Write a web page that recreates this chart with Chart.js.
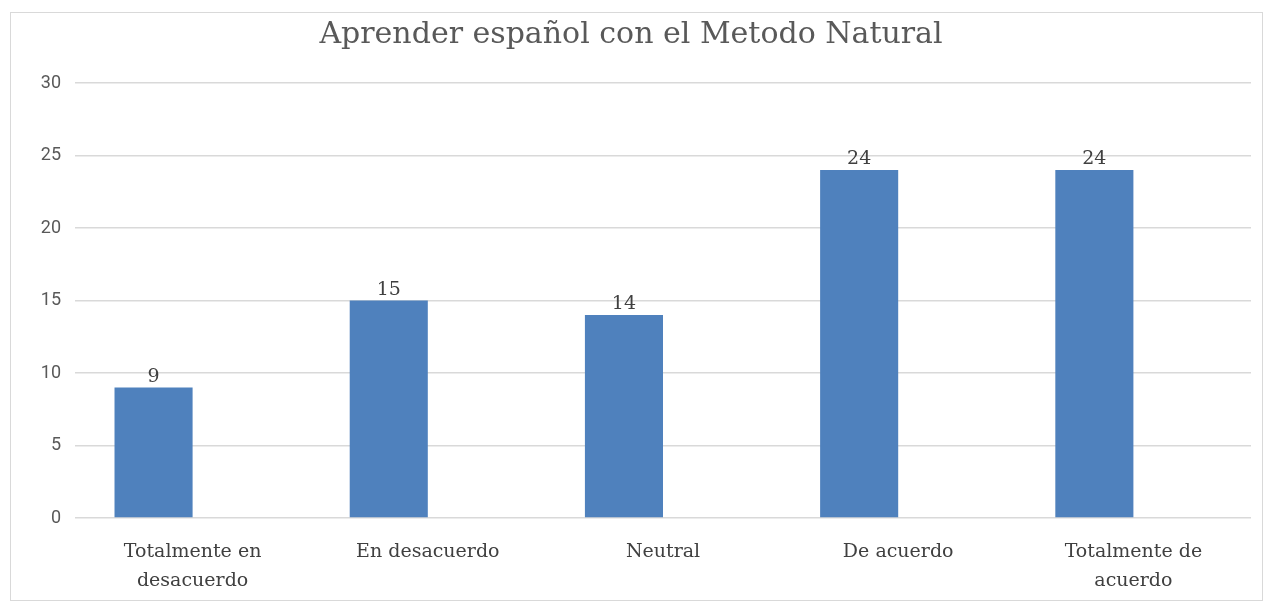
<!DOCTYPE html>
<html>
<head>
<meta charset="utf-8">
<script src="https://cdn.jsdelivr.net/npm/chart.js@4/dist/chart.umd.min.js"></script>
<style>
    body { margin: 0; background: #fff; }
    #box {
        position: absolute; left: 10px; top: 12px;
        width: 1251px; height: 587px;
        border: 1px solid #d9d9d9;
    }
</style>
</head>
<body>
<div id="box"><canvas id="chart"></canvas></div>
<script>
// Chart data
const categories = [
    ['Totalmente en', 'desacuerdo'],
    'En desacuerdo',
    'Neutral',
    'De acuerdo',
    ['Totalmente de', 'acuerdo']
];
const respuestas = [9, 15, 14, 24, 24];
const yTicks = [0, 5, 10, 15, 20, 25, 30];

// empty second series: keeps bars left of the category centre like the original
const vacio = categories.map(() => null);

// value labels above each bar
const valueLabels = {
    id: 'valueLabels',
    afterDatasetsDraw(chart) {
        const ctx = chart.ctx;
        const meta = chart.getDatasetMeta(0);
        ctx.save();
        ctx.font = '19px "DejaVu Serif"';
        ctx.fillStyle = '#404040';
        ctx.textAlign = 'center';
        ctx.textBaseline = 'bottom';
        meta.data.forEach((bar, i) => {
            ctx.fillText(respuestas[i], bar.x, bar.y - 1);
        });
        ctx.restore();
    }
};

const ctx = document.getElementById('chart').getContext('2d');
new Chart(ctx, {
    type: 'bar',
    data: {
        labels: categories,
        datasets: [{
            data: respuestas,
            backgroundColor: '#4f81bd',
            barPercentage: 1,
            categoryPercentage: 0.664
        }, {
            data: vacio,
            backgroundColor: 'rgba(0,0,0,0)',
            barPercentage: 1,
            categoryPercentage: 0.664
        }]
    },
    options: {
        responsive: true,
        maintainAspectRatio: false,
        animation: false,
        layout: { padding: { left: 0, right: 11, top: 0, bottom: 0 } },
        plugins: {
            legend: { display: false },
            tooltip: { enabled: false },
            title: {
                display: true,
                text: 'Aprender español con el Metodo Natural',
                color: '#595959',
                font: { family: 'DejaVu Serif', size: 30, weight: 'normal' },
                padding: { top: 4, bottom: 30 }
            }
        },
        scales: {
            x: {
                afterFit: axis => { axis.height = 82; },
                grid: { display: false },
                border: { display: false },
                ticks: {
                    color: '#404040',
                    font: { family: 'DejaVu Serif', size: 19, lineHeight: 1.5 },
                    maxRotation: 0,
                    padding: 12
                }
            },
            y: {
                min: 0,
                max: 30,
                afterBuildTicks: axis => { axis.ticks = yTicks.map(v => ({ value: v })); },
                afterFit: axis => { axis.width = 64; },
                grid: { color: '#d9d9d9', lineWidth: 1.5, drawTicks: false },
                border: { display: false },
                ticks: {
                    color: '#595959',
                    font: { family: 'Roboto', size: 18 },
                    padding: 14
                }
            }
        }
    },
    plugins: [valueLabels]
});
</script>
</body>
</html>
